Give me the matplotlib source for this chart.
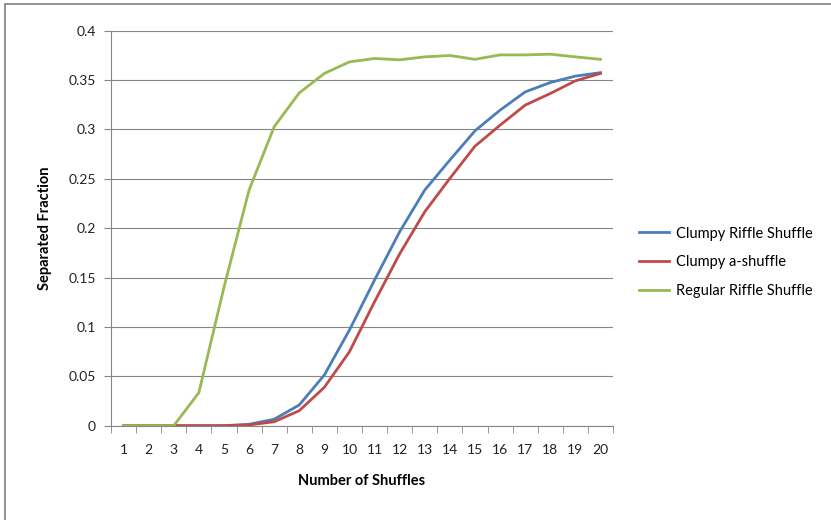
import matplotlib.pyplot as plt
import matplotlib.patches as mpatches

# data
shuffles = list(range(1, 21))
clumpy_riffle = [0, 0, 0, 0, 0, 0.0014, 0.0065, 0.021, 0.0513, 0.0969,
                 0.1475, 0.1964, 0.2386, 0.269, 0.2986, 0.3195, 0.338, 0.3475, 0.354, 0.3575]
clumpy_a = [0, 0, 0, 0, 0, 0.0008, 0.004, 0.0152, 0.0389, 0.0749,
            0.1255, 0.174, 0.2166, 0.2504, 0.283, 0.3043, 0.3246, 0.3364, 0.3492, 0.3567]
regular_riffle = [0, 0, 0, 0.0334, 0.14, 0.2386, 0.3027, 0.337, 0.3567, 0.3684,
                  0.3719, 0.3705, 0.3735, 0.3749, 0.371, 0.3755, 0.3755, 0.3762, 0.3735, 0.371]
series_names = ['Clumpy Riffle Shuffle', 'Clumpy a-shuffle', 'Regular Riffle Shuffle']
series_colors = ['#4A7EBB', '#BE4B48', '#98B954']

plt.rcParams['font.family'] = ['Lato', 'DejaVu Sans']

fig = plt.figure(figsize=(8.31, 5.2), dpi=100)
ax = fig.add_axes([111 / 831, 1 - 425.7 / 520, (613 - 111) / 831, (425.7 - 30.7) / 520])

# outer chart border (only top and left visible in the reference)
fig.patches.append(mpatches.Rectangle((5 / 831, -0.1), 1.2, 1 - 4 / 520 + 0.1,
                                      transform=fig.transFigure, fill=False,
                                      edgecolor='#7f7f7f', linewidth=1.2))

for vals, name, col in zip([clumpy_riffle, clumpy_a, regular_riffle], series_names, series_colors):
    ax.plot(shuffles, vals, color=col, linewidth=2.0, label=name, solid_joinstyle='miter')

ax.set_xlim(0.5, 20.5)
ax.set_ylim(0, 0.4)
ax.set_yticks([i * 0.05 for i in range(9)])
ax.set_yticklabels(['0', '0.05', '0.1', '0.15', '0.2', '0.25', '0.3', '0.35', '0.4'])
ax.set_xticks(shuffles)
ax.set_xticklabels([str(s) for s in shuffles])
ax.set_xticks([s + 0.5 for s in range(0, 21)], minor=True)
ax.tick_params(axis='x', which='major', length=0, pad=13, labelsize=10, colors='#222222')
ax.tick_params(axis='x', which='minor', length=5, color='#868686', direction='out')
ax.tick_params(axis='y', length=5, color='#868686', labelsize=10, colors='#222222', pad=6)

ax.grid(axis='y', color='#868686', linewidth=0.8)
ax.set_axisbelow(True)
for s in ['top', 'right']:
    ax.spines[s].set_visible(False)
for s in ['left', 'bottom']:
    ax.spines[s].set_color('#868686')
    ax.spines[s].set_linewidth(0.8)

ax.set_xlabel('Number of Shuffles', fontsize=10.5, fontweight='bold', labelpad=13)
ax.set_ylabel('Separated Fraction', fontsize=10.5, fontweight='bold', labelpad=12)

ax.legend(loc='center left', bbox_to_anchor=(1.025, 0.414), frameon=False, fontsize=10.5,
          handlelength=2.1, handletextpad=0.45, labelspacing=1.0)

fig.savefig('out.png', dpi=100)
